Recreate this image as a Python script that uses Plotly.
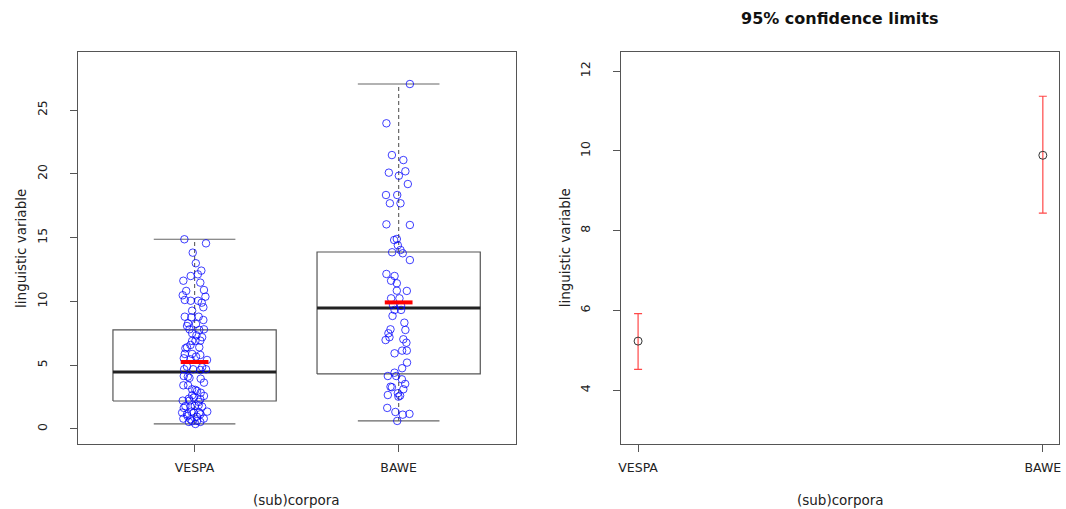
import plotly.graph_objects as go

# ---------------- data ----------------
categories = ["VESPA", "BAWE"]

# boxplot statistics
lower_whisker = [0.39, 0.63]
q1 = [2.19, 4.31]
median = [4.47, 9.48]
q3 = [7.76, 13.87]
upper_whisker = [14.87, 27.04]
group_mean = [5.24, 9.92]

# jittered observations (value, horizontal jitter)
vespa_values = [14.87, 14.55, 13.82, 12.99, 12.41, 12.12, 11.99, 11.62, 11.47, 10.89,
                10.82, 10.48, 10.37, 10.11, 10.05, 10.05, 9.90, 9.54, 9.27, 8.80,
                8.75, 8.80, 8.54, 8.28, 8.23, 7.81, 7.76, 7.81, 7.34, 7.19,
                6.90, 6.90, 6.40, 6.40, 5.88, 5.88, 5.67, 5.41, 5.46, 4.84,
                4.88, 4.68, 4.68, 4.68, 4.15, 4.00, 3.94, 3.63, 3.42, 3.42,
                3.06, 2.84, 2.64, 2.59, 2.22, 2.22, 2.12, 1.80, 1.65, 1.75,
                1.36, 1.28, 1.28, 1.36, 1.02, 0.96, 0.81, 0.81, 0.60, 0.55,
                0.39, 0.55, 4.62, 4.10, 3.11, 2.98, 2.37, 2.45, 2.33, 1.80,
                1.75, 1.86, 1.15, 1.15, 1.28, 0.76, 0.63, 7.50, 6.58, 6.32,
                5.80, 5.54, 6.92, 8.07]
vespa_jitter = [-0.050, 0.056, -0.009, 0.006, 0.033, 0.016, -0.019, -0.055, 0.028, 0.046,
                -0.041, -0.058, 0.053, -0.048, -0.019, 0.017, 0.035, 0.043, -0.012, -0.048,
                -0.016, 0.020, 0.043, -0.032, 0.007, -0.025, 0.023, 0.046, 0.009, 0.037,
                -0.012, 0.004, 0.023, -0.037, -0.012, -0.048, 0.007, 0.061, -0.020, 0.037,
                -0.037, -0.051, -0.007, 0.056, -0.053, -0.025, 0.030, 0.046, -0.055, -0.032,
                0.004, 0.030, -0.012, 0.046, -0.058, -0.025, 0.020, 0.001, -0.053, 0.037,
                -0.016, 0.023, -0.061, 0.062, -0.035, 0.011, -0.055, 0.045, -0.012, 0.028,
                0.004, -0.028, 0.028, -0.033, -0.012, 0.012, -0.028, -0.004, 0.028, -0.045,
                -0.020, 0.020, -0.037, 0.028, -0.004, -0.020, 0.012, -0.012, -0.020, -0.045,
                0.028, -0.053, 0.028, -0.037]

bawe_values = [27.04, 23.96, 21.47, 21.08, 20.09, 19.85, 20.20, 19.20, 18.34, 18.34,
               17.69, 17.69, 16.04, 15.99, 14.81, 14.89, 14.40, 13.85, 14.03, 13.77,
               13.24, 12.15, 11.99, 11.62, 11.42, 10.82, 10.84, 10.24, 10.24, 9.72,
               9.64, 9.33, 9.33, 8.86, 8.33, 7.76, 7.81, 7.50, 7.19, 6.97,
               7.03, 6.76, 6.14, 6.14, 5.93, 5.20, 4.76, 4.41, 4.15, 4.15,
               3.89, 3.53, 3.31, 3.27, 3.11, 2.66, 2.80, 2.61, 2.53, 1.65,
               1.33, 1.12, 1.18, 0.63]
bawe_jitter = [0.055, -0.060, -0.033, 0.023, -0.048, 0.001, 0.033, 0.045, -0.062, -0.007,
               -0.043, 0.009, -0.060, 0.055, -0.022, -0.009, -0.004, -0.032, 0.009, 0.020,
               0.055, -0.060, -0.020, -0.037, -0.009, 0.040, -0.009, -0.037, 0.004, -0.028,
               0.012, -0.020, 0.012, -0.030, 0.028, 0.033, -0.040, -0.050, -0.045, -0.064,
               0.023, 0.038, 0.017, 0.040, -0.020, 0.041, 0.017, -0.020, -0.053, -0.012,
               0.016, 0.032, -0.040, -0.033, 0.023, -0.053, -0.004, 0.007, -0.001, -0.056,
               -0.016, 0.020, 0.053, -0.007]

# 95% confidence limits
ci_mean = [5.23, 9.89]
ci_lower = [4.52, 8.44]
ci_upper = [5.92, 11.37]

y_ticks_left = [0, 5, 10, 15, 20, 25]
y_ticks_right = [4, 6, 8, 10, 12]

# ---------------- figure ----------------
fig = go.Figure()
FONT = "DejaVu Sans, Liberation Sans, Arial"
BOXW = 0.4     # half box width
CAPW = 0.2     # half cap width
MEANW = 0.068  # half mean-bar width

for i, cat in enumerate(categories):
    xc = i + 1
    # whiskers (dashed)
    fig.add_trace(go.Scatter(x=[xc, xc, None, xc, xc],
                             y=[lower_whisker[i], q1[i], None, q3[i], upper_whisker[i]],
                             mode="lines", line=dict(color="#666", width=1.2, dash="4px,3px"),
                             hoverinfo="skip", showlegend=False, xaxis="x", yaxis="y"))
    # caps
    fig.add_trace(go.Scatter(x=[xc - CAPW, xc + CAPW, None, xc - CAPW, xc + CAPW],
                             y=[lower_whisker[i], lower_whisker[i], None, upper_whisker[i], upper_whisker[i]],
                             mode="lines", line=dict(color="#666", width=1.2),
                             hoverinfo="skip", showlegend=False, xaxis="x", yaxis="y"))
    # box
    fig.add_trace(go.Scatter(x=[xc - BOXW, xc + BOXW, xc + BOXW, xc - BOXW, xc - BOXW],
                             y=[q1[i], q1[i], q3[i], q3[i], q1[i]],
                             mode="lines", line=dict(color="#555", width=1.2),
                             hoverinfo="skip", showlegend=False, xaxis="x", yaxis="y"))
    # median
    fig.add_trace(go.Scatter(x=[xc - BOXW, xc + BOXW], y=[median[i], median[i]],
                             mode="lines", line=dict(color="#222", width=3),
                             hoverinfo="skip", showlegend=False, xaxis="x", yaxis="y"))

# jittered points
fig.add_trace(go.Scatter(x=[1 + j for j in vespa_jitter], y=vespa_values, mode="markers",
                         marker=dict(symbol="circle-open", size=7.5, color="rgba(0,0,255,0.75)",
                                     line=dict(width=1)),
                         showlegend=False, xaxis="x", yaxis="y"))
fig.add_trace(go.Scatter(x=[2 + j for j in bawe_jitter], y=bawe_values, mode="markers",
                         marker=dict(symbol="circle-open", size=7.5, color="rgba(0,0,255,0.75)",
                                     line=dict(width=1)),
                         showlegend=False, xaxis="x", yaxis="y"))

# mean bars (red)
for i in range(len(categories)):
    xc = i + 1
    fig.add_trace(go.Scatter(x=[xc - MEANW, xc + MEANW], y=[group_mean[i], group_mean[i]],
                             mode="lines", line=dict(color="#ff0000", width=4),
                             hoverinfo="skip", showlegend=False, xaxis="x", yaxis="y"))

# right panel: confidence limits
fig.add_trace(go.Scatter(
    x=[1, 2], y=ci_mean, mode="markers",
    marker=dict(symbol="circle-open", size=8, color="#333", line=dict(width=1)),
    error_y=dict(type="data", symmetric=False,
                 array=[u - m for u, m in zip(ci_upper, ci_mean)],
                 arrayminus=[m - l for m, l in zip(ci_mean, ci_lower)],
                 color="rgba(255,40,40,0.85)", thickness=1.2, width=4),
    showlegend=False, xaxis="x2", yaxis="y2"))

W, H = 1066, 509
yd = [(H - 444) / H, (H - 52) / H]
axis_common = dict(showline=True, mirror=True, linecolor="#555", linewidth=1.2,
                   ticks="outside", ticklen=7, tickcolor="#555", tickwidth=1,
                   showgrid=False, zeroline=False,
                   tickfont=dict(family=FONT, size=12.5, color="#222"))

ann_font = dict(family=FONT, size=13.5, color="#222")
fig.update_layout(
    width=W, height=H,
    margin=dict(l=0, r=0, t=0, b=0),
    paper_bgcolor="white", plot_bgcolor="white",
    font=dict(family=FONT, size=12, color="#222"),
    xaxis=dict(domain=[75 / W, 515 / W], range=[0.427, 2.573],
               tickvals=[1, 2], ticktext=categories, ticklabelstandoff=5, **axis_common),
    yaxis=dict(domain=yd, range=[-1.18, 29.55], tickvals=y_ticks_left,
               tickangle=-90, ticklabelstandoff=18, **axis_common),
    xaxis2=dict(domain=[621 / W, 1061 / W], range=[0.958, 2.04], anchor="y2",
                tickvals=[1, 2], ticktext=categories, ticklabelstandoff=5, **axis_common),
    yaxis2=dict(domain=yd, range=[2.65, 12.48], anchor="x2", tickvals=y_ticks_right,
                tickangle=-90, ticklabelstandoff=18, **axis_common),
    annotations=[
        dict(text="(sub)corpora", x=295 / W, y=(H - 500) / H, xref="paper", yref="paper",
             xanchor="center", yanchor="middle", showarrow=False, font=ann_font),
        dict(text="linguistic variable", x=18 / W, y=(H - 248) / H, xref="paper", yref="paper",
             xanchor="center", yanchor="middle", showarrow=False, textangle=-90, font=ann_font),
        dict(text="(sub)corpora", x=841 / W, y=(H - 500) / H, xref="paper", yref="paper",
             xanchor="center", yanchor="middle", showarrow=False, font=ann_font),
        dict(text="linguistic variable", x=565 / W, y=(H - 248) / H, xref="paper", yref="paper",
             xanchor="center", yanchor="middle", showarrow=False, textangle=-90, font=ann_font),
        dict(text="<b>95% confidence limits</b>", x=841 / W, y=(H - 19) / H, xref="paper",
             yref="paper", xanchor="center", yanchor="middle", showarrow=False,
             font=dict(family=FONT, size=16, color="#111")),
    ],
)

fig.write_html("out.html", config={"displayModeBar": False},
               post_script="document.body.style.margin='0';document.body.style.overflow='hidden';")
